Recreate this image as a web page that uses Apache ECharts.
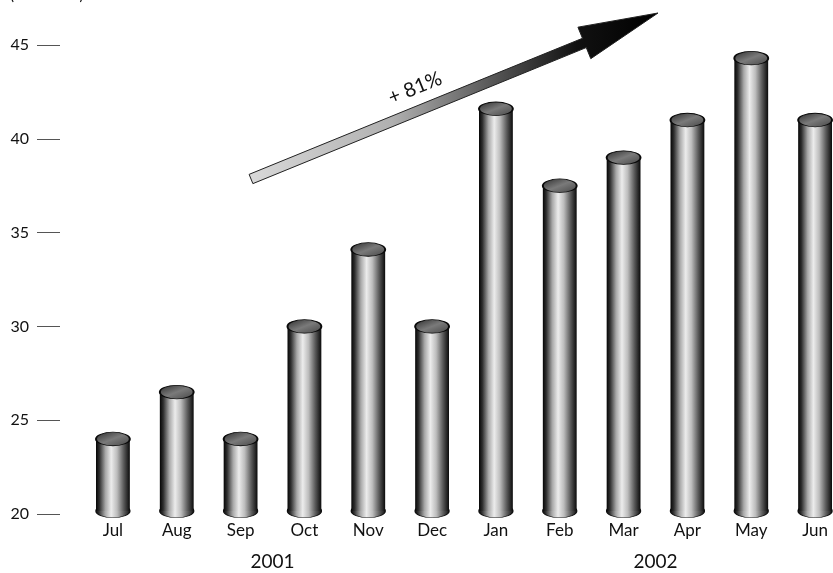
<!DOCTYPE html>
<html>
<head>
<meta charset="utf-8">
<script src="https://cdn.jsdelivr.net/npm/echarts@6/dist/echarts.min.js"></script>
<style>
html,body{margin:0;padding:0;background:#fff;}
#c{width:833px;height:573px;}
</style>
</head>
<body>
<div id="c"></div>
<script>
var months = ['Jul','Aug','Sep','Oct','Nov','Dec','Jan','Feb','Mar','Apr','May','Jun'];
var years = ['2001','2002'];
var values = [24.0, 26.5, 24.0, 30.0, 34.1, 30.0, 41.6, 37.5, 39.0, 41.0, 44.3, 41.0];
var yTicks = [20, 25, 30, 35, 40, 45];
var growthLabel = '+ 81%';
var unitLabel = '(in millions)';

var FONT = 'Lato, "Open Sans", sans-serif';
var chart = echarts.init(document.getElementById('c'), null, {renderer:'canvas'});

var bodyGrad = new echarts.graphic.LinearGradient(0,0,1,0,[
  {offset:0, color:'#050505'},
  {offset:0.1, color:'#2e2e2e'},
  {offset:0.28, color:'#a8a8a8'},
  {offset:0.45, color:'#ececec'},
  {offset:0.62, color:'#bdbdbd'},
  {offset:0.82, color:'#5a5a5a'},
  {offset:1, color:'#0a0a0a'}
]);
var topGrad = new echarts.graphic.LinearGradient(0,0,1,1,[
  {offset:0, color:'#2a2a2a'},
  {offset:0.5, color:'#7a7a7a'},
  {offset:1, color:'#444'}
]);

function renderCyl(params, api){
  var idx = api.value(0);
  var v = api.value(1);
  var top = api.coord([idx, v]);
  var base = api.coord([idx, yTicks[0]]);
  var bw = api.size([1,0])[0] * 0.53;
  var r = bw/2;
  var ry = 0.4;
  return {
    type:'group',
    children:[
      {type:'circle', shape:{cx:0,cy:0,r:r}, x:top[0], y:base[1]-3, scaleY:ry,
        style:{fill:bodyGrad, stroke:'#111', lineWidth:1.5}},
      {type:'rect', shape:{x:top[0]-r, y:top[1], width:bw, height:base[1]-3-top[1]},
        style:{fill:bodyGrad}},
      {type:'circle', shape:{cx:0,cy:0,r:r}, x:top[0], y:top[1], scaleY:ry,
        style:{fill:topGrad, stroke:'#0a0a0a', lineWidth:2}}
    ]
  };
}

// arrow geometry (annotation)
var T = [251,179], d=[0.926,-0.378], n=[0.378,0.926];
var L = 360, hw = 5, hh = 17;
var B = [T[0]+d[0]*L, T[1]+d[1]*L];
function pt(p, k){ return [p[0]+n[0]*k, p[1]+n[1]*k]; }
var arrowPts = [
  pt(T,-hw), pt(B,-hw), pt(B,-hh), [658,13], pt(B,hh), pt(B,hw), pt(T,hw)
];

chart.setOption({
  animation:false,
  backgroundColor:'#fff',
  grid:{left:81, top:45, width:766, height:469, containLabel:false, outerBoundsMode:'none'},
  xAxis:[
    {type:'category', data:months, position:'bottom',
      axisLine:{show:false}, axisTick:{show:false},
      axisLabel:{color:'#111', fontFamily:FONT, fontSize:17, margin:8}},
    {type:'category', data:years, position:'bottom', offset:30, gridIndex:0,
      axisLine:{show:false}, axisTick:{show:false},
      axisLabel:{color:'#111', fontFamily:FONT, fontSize:19, margin:8}}
  ],
  yAxis:{type:'value', min:20, max:45, interval:5, offset:21,
    axisLine:{show:false}, splitLine:{show:false},
    axisTick:{show:true, length:23, lineStyle:{color:'#555', width:1}},
    axisLabel:{color:'#111', fontFamily:FONT, fontSize:16, margin:31}},
  series:[{
    type:'custom', xAxisIndex:0, renderItem:renderCyl,
    data: values.map(function(v,i){return [i,v];}),
    encode:{x:0,y:1}, clip:false
  }],
  graphic:[
    {type:'text', left:10, top:-12, style:{text:unitLabel, fill:'#111', font:'15px '+FONT}},
    {type:'polygon', shape:{points:arrowPts}, z:10,
      style:{fill:new echarts.graphic.LinearGradient(0,0,1,0,[
        {offset:0,color:'#d9d9d9'},{offset:0.35,color:'#b0b0b0'},
        {offset:0.6,color:'#555'},{offset:0.8,color:'#111'},{offset:1,color:'#000'}]),
        stroke:'#222', lineWidth:1}},
    {type:'text', x:415, y:88, rotation:0.385, z:10,
      style:{text:growthLabel, fill:'#111', font:'20px '+FONT, align:'center', verticalAlign:'middle'}}
  ]
});
</script>
</body>
</html>
